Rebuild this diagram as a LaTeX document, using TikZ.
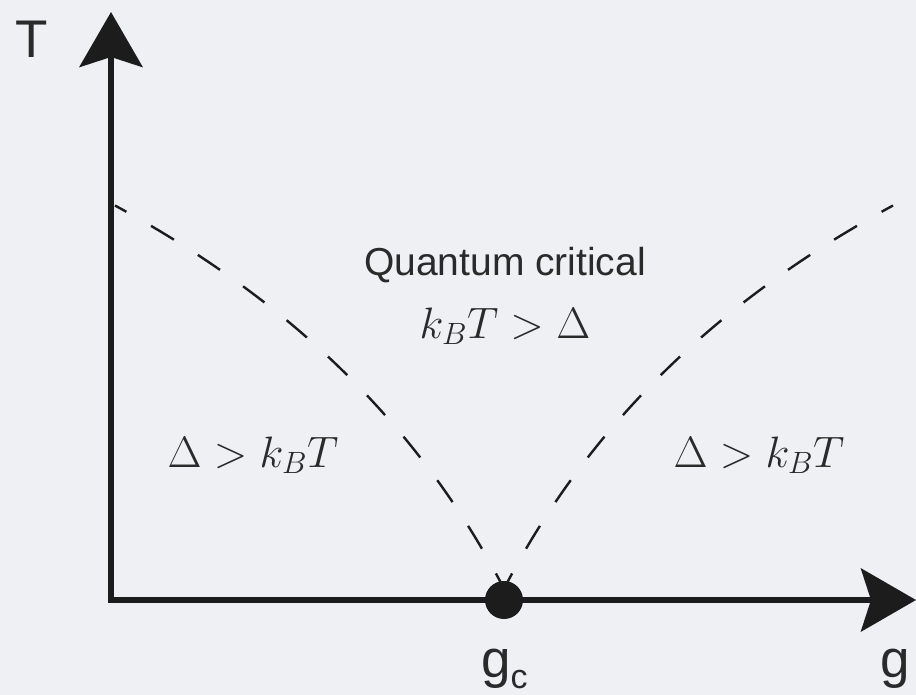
\RequirePackage{fix-cm}
\documentclass[tikz,border=0pt]{standalone}
\usepackage[no-math]{fontspec}
\setmainfont{Liberation Sans}
\usetikzlibrary{arrows.meta}
\definecolor{bg}{HTML}{EEF0F3}
\definecolor{ink}{HTML}{1C1C1C}
\definecolor{txt}{HTML}{2A2A2A}
\tikzset{
  axis/.style={line width=6pt, draw=ink, -{Stealth[length=55pt, width=63pt, inset=10pt]}},
  crossover/.style={line width=2.4pt, draw=ink, dash pattern=on 26.7pt off 28.4pt, dash phase=13.7pt},
  sanslabel/.style={text=txt, inner sep=0pt, font=\fontsize{53}{60}\selectfont},
  regionlabel/.style={text=txt, inner sep=0pt, font=\fontsize{39}{46}\selectfont},
  mathlabel/.style={text=txt, inner sep=0pt, font=\fontsize{44}{50}\selectfont},
}
\begin{document}
\begin{tikzpicture}[x=1pt,y=-1pt]
  \fill[bg] (0,0) rectangle (916,695);
  \useasboundingbox (0,0) rectangle (916,695);
  % axes
  \coordinate (origin) at (111,600);
  \coordinate (ytip) at (111,12);
  \coordinate (xtip) at (916,600);
  \coordinate (xstart) at (108,600);
  \draw[axis] (origin) -- (ytip);
  \draw[axis] (xstart) -- (xtip);
  % crossover curves
  \coordinate (ltop) at (115,205.5);
  \coordinate (lbot) at (501,583);
  \coordinate (rtop) at (893,205.5);
  \coordinate (rbot) at (507,583);
  \draw[crossover] (ltop) .. controls (252,280) and (401,393) .. (lbot);
  \draw[crossover] (rtop) .. controls (756,280) and (607,393) .. (rbot);
  % critical point
  \node[circle, fill=ink, minimum size=38pt, inner sep=0pt] (qcp) at (504,600) {};
  % labels
  \node[sanslabel, anchor=base] (tlabel) at (32,58) {T};
  \node[sanslabel, anchor=base west] (glabel) at (880,677) {g};
  \node[sanslabel, anchor=base west] (gclabel) at (481,677) {g\raisebox{-0.22em}{\fontsize{34}{40}\selectfont c}};
  \node[regionlabel, anchor=base] (qc) at (505,276) {Quantum critical};
  \node[mathlabel, anchor=base] (qcmath) at (505,338) {$k_BT>\Delta$};
  \node[mathlabel, anchor=base] (left) at (253,467) {$\Delta>k_BT$};
  \node[mathlabel, anchor=base] (right) at (759,467) {$\Delta>k_BT$};
\end{tikzpicture}
\end{document}
